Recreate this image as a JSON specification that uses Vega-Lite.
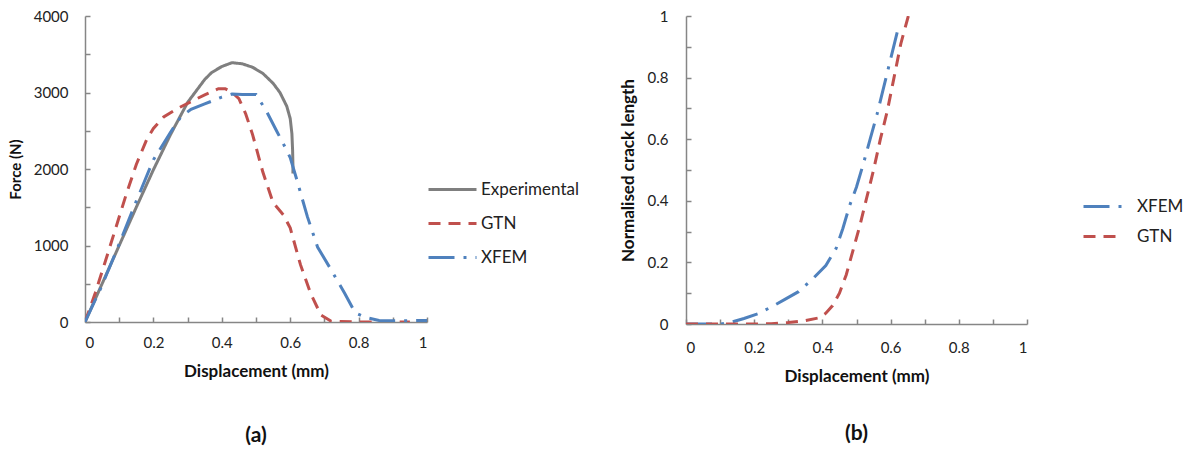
{
  "$schema": "https://vega.github.io/schema/vega-lite/v6.json",
  "padding": {"left": 8, "top": 9, "right": 5, "bottom": 5},
  "background": "white",
  "config": {
    "view": {"stroke": null},
    "font": "Lato",
    "axis": {"grid": false, "domainColor": "#868686", "domainWidth": 1.5, "tickColor": "#868686", "tickWidth": 1.5, "tickSize": -5, "labelFont": "Lato", "labelFontSize": 15, "labelColor": "#222222", "titleFont": "Lato", "titleFontSize": 17, "titleFontWeight": "bold", "titleColor": "#111111"},
    "legend": {"labelFont": "Lato", "labelFontSize": 17, "labelColor": "#222222", "symbolType": "stroke", "symbolStrokeWidth": 3, "padding": 0},
    "title": {"font": "Lato", "fontSize": 21, "fontWeight": "bold", "color": "#111111", "orient": "bottom"}
  },
  "datasets": {
    "a": [
      {"s": "Experimental", "i": 0, "d": 0, "f": 0},
      {"s": "Experimental", "i": 1, "d": 0.05, "f": 500},
      {"s": "Experimental", "i": 2, "d": 0.1, "f": 1000},
      {"s": "Experimental", "i": 3, "d": 0.15, "f": 1500},
      {"s": "Experimental", "i": 4, "d": 0.2, "f": 1990},
      {"s": "Experimental", "i": 5, "d": 0.25, "f": 2450},
      {"s": "Experimental", "i": 6, "d": 0.3, "f": 2870},
      {"s": "Experimental", "i": 7, "d": 0.32, "f": 2990},
      {"s": "Experimental", "i": 8, "d": 0.35, "f": 3170},
      {"s": "Experimental", "i": 9, "d": 0.37, "f": 3260},
      {"s": "Experimental", "i": 10, "d": 0.4, "f": 3340},
      {"s": "Experimental", "i": 11, "d": 0.43, "f": 3390},
      {"s": "Experimental", "i": 12, "d": 0.46, "f": 3375},
      {"s": "Experimental", "i": 13, "d": 0.49, "f": 3330},
      {"s": "Experimental", "i": 14, "d": 0.52, "f": 3250},
      {"s": "Experimental", "i": 15, "d": 0.55, "f": 3120},
      {"s": "Experimental", "i": 16, "d": 0.57, "f": 3000},
      {"s": "Experimental", "i": 17, "d": 0.59, "f": 2820},
      {"s": "Experimental", "i": 18, "d": 0.6, "f": 2660},
      {"s": "Experimental", "i": 19, "d": 0.605, "f": 2460},
      {"s": "Experimental", "i": 20, "d": 0.607, "f": 2250},
      {"s": "Experimental", "i": 21, "d": 0.608, "f": 2050},
      {"s": "Experimental", "i": 22, "d": 0.608, "f": 1940},
      {"s": "GTN", "i": 0, "d": 0, "f": 0},
      {"s": "GTN", "i": 1, "d": 0.03, "f": 380},
      {"s": "GTN", "i": 2, "d": 0.06, "f": 800},
      {"s": "GTN", "i": 3, "d": 0.09, "f": 1230},
      {"s": "GTN", "i": 4, "d": 0.12, "f": 1660},
      {"s": "GTN", "i": 5, "d": 0.15, "f": 2060},
      {"s": "GTN", "i": 6, "d": 0.18, "f": 2380},
      {"s": "GTN", "i": 7, "d": 0.2, "f": 2530},
      {"s": "GTN", "i": 8, "d": 0.23, "f": 2680},
      {"s": "GTN", "i": 9, "d": 0.27, "f": 2790},
      {"s": "GTN", "i": 10, "d": 0.31, "f": 2880},
      {"s": "GTN", "i": 11, "d": 0.35, "f": 2970},
      {"s": "GTN", "i": 12, "d": 0.39, "f": 3050},
      {"s": "GTN", "i": 13, "d": 0.41, "f": 3050},
      {"s": "GTN", "i": 14, "d": 0.43, "f": 3000},
      {"s": "GTN", "i": 15, "d": 0.45, "f": 2920},
      {"s": "GTN", "i": 16, "d": 0.47, "f": 2720},
      {"s": "GTN", "i": 17, "d": 0.49, "f": 2450},
      {"s": "GTN", "i": 18, "d": 0.52, "f": 1960},
      {"s": "GTN", "i": 19, "d": 0.55, "f": 1560},
      {"s": "GTN", "i": 20, "d": 0.58, "f": 1400},
      {"s": "GTN", "i": 21, "d": 0.6, "f": 1230},
      {"s": "GTN", "i": 22, "d": 0.63, "f": 750},
      {"s": "GTN", "i": 23, "d": 0.66, "f": 370},
      {"s": "GTN", "i": 24, "d": 0.69, "f": 90},
      {"s": "GTN", "i": 25, "d": 0.72, "f": 10},
      {"s": "GTN", "i": 26, "d": 0.8, "f": 0},
      {"s": "GTN", "i": 27, "d": 0.9, "f": 0},
      {"s": "GTN", "i": 28, "d": 0.95, "f": 0},
      {"s": "XFEM", "i": 0, "d": 0, "f": 0},
      {"s": "XFEM", "i": 1, "d": 0.05, "f": 480},
      {"s": "XFEM", "i": 2, "d": 0.1, "f": 1020},
      {"s": "XFEM", "i": 3, "d": 0.15, "f": 1580},
      {"s": "XFEM", "i": 4, "d": 0.2, "f": 2120},
      {"s": "XFEM", "i": 5, "d": 0.25, "f": 2480},
      {"s": "XFEM", "i": 6, "d": 0.28, "f": 2680},
      {"s": "XFEM", "i": 7, "d": 0.31, "f": 2780},
      {"s": "XFEM", "i": 8, "d": 0.35, "f": 2850},
      {"s": "XFEM", "i": 9, "d": 0.4, "f": 2940},
      {"s": "XFEM", "i": 10, "d": 0.43, "f": 2980},
      {"s": "XFEM", "i": 11, "d": 0.46, "f": 2975},
      {"s": "XFEM", "i": 12, "d": 0.5, "f": 2975},
      {"s": "XFEM", "i": 13, "d": 0.53, "f": 2760},
      {"s": "XFEM", "i": 14, "d": 0.56, "f": 2500},
      {"s": "XFEM", "i": 15, "d": 0.58, "f": 2330},
      {"s": "XFEM", "i": 16, "d": 0.6, "f": 2150},
      {"s": "XFEM", "i": 17, "d": 0.62, "f": 1850},
      {"s": "XFEM", "i": 18, "d": 0.65, "f": 1380},
      {"s": "XFEM", "i": 19, "d": 0.68, "f": 980},
      {"s": "XFEM", "i": 20, "d": 0.72, "f": 680},
      {"s": "XFEM", "i": 21, "d": 0.76, "f": 370},
      {"s": "XFEM", "i": 22, "d": 0.79, "f": 120},
      {"s": "XFEM", "i": 23, "d": 0.82, "f": 60},
      {"s": "XFEM", "i": 24, "d": 0.86, "f": 20},
      {"s": "XFEM", "i": 25, "d": 0.9, "f": 15},
      {"s": "XFEM", "i": 26, "d": 1.0, "f": 20}
    ],
    "b": [
      {"s": "XFEM", "i": 0, "d": 0, "c": 0},
      {"s": "XFEM", "i": 1, "d": 0.05, "c": 0},
      {"s": "XFEM", "i": 2, "d": 0.1, "c": 0},
      {"s": "XFEM", "i": 3, "d": 0.13, "c": 0.005},
      {"s": "XFEM", "i": 4, "d": 0.17, "c": 0.018},
      {"s": "XFEM", "i": 5, "d": 0.21, "c": 0.033},
      {"s": "XFEM", "i": 6, "d": 0.25, "c": 0.055},
      {"s": "XFEM", "i": 7, "d": 0.29, "c": 0.08},
      {"s": "XFEM", "i": 8, "d": 0.33, "c": 0.105},
      {"s": "XFEM", "i": 9, "d": 0.37, "c": 0.145},
      {"s": "XFEM", "i": 10, "d": 0.41, "c": 0.19},
      {"s": "XFEM", "i": 11, "d": 0.44, "c": 0.245},
      {"s": "XFEM", "i": 12, "d": 0.46, "c": 0.31},
      {"s": "XFEM", "i": 13, "d": 0.48, "c": 0.385},
      {"s": "XFEM", "i": 14, "d": 0.5, "c": 0.445},
      {"s": "XFEM", "i": 15, "d": 0.52, "c": 0.52},
      {"s": "XFEM", "i": 16, "d": 0.54, "c": 0.6},
      {"s": "XFEM", "i": 17, "d": 0.56, "c": 0.68},
      {"s": "XFEM", "i": 18, "d": 0.58, "c": 0.77},
      {"s": "XFEM", "i": 19, "d": 0.6, "c": 0.86},
      {"s": "XFEM", "i": 20, "d": 0.62, "c": 0.95},
      {"s": "GTN", "i": 0, "d": 0, "c": 0},
      {"s": "GTN", "i": 1, "d": 0.1, "c": 0},
      {"s": "GTN", "i": 2, "d": 0.2, "c": 0},
      {"s": "GTN", "i": 3, "d": 0.25, "c": 0.001},
      {"s": "GTN", "i": 4, "d": 0.3, "c": 0.005},
      {"s": "GTN", "i": 5, "d": 0.35, "c": 0.011},
      {"s": "GTN", "i": 6, "d": 0.39, "c": 0.02},
      {"s": "GTN", "i": 7, "d": 0.41, "c": 0.035},
      {"s": "GTN", "i": 8, "d": 0.43, "c": 0.06},
      {"s": "GTN", "i": 9, "d": 0.45, "c": 0.1},
      {"s": "GTN", "i": 10, "d": 0.47, "c": 0.16},
      {"s": "GTN", "i": 11, "d": 0.49, "c": 0.24},
      {"s": "GTN", "i": 12, "d": 0.51, "c": 0.32},
      {"s": "GTN", "i": 13, "d": 0.53, "c": 0.41},
      {"s": "GTN", "i": 14, "d": 0.55, "c": 0.5},
      {"s": "GTN", "i": 15, "d": 0.57, "c": 0.6},
      {"s": "GTN", "i": 16, "d": 0.59, "c": 0.69},
      {"s": "GTN", "i": 17, "d": 0.61, "c": 0.8},
      {"s": "GTN", "i": 18, "d": 0.63, "c": 0.91},
      {"s": "GTN", "i": 19, "d": 0.652, "c": 1.0}
    ]
  },
  "hconcat": [
    {
      "width": 342,
      "height": 306,
      "title": {"text": "(a)", "offset": 46},
      "data": {"name": "a"},
      "mark": {"type": "line", "strokeWidth": 3, "clip": true},
      "encoding": {
        "x": {"field": "d", "type": "quantitative", "scale": {"domain": [0, 1], "nice": false}, "axis": {"title": "Displacement (mm)", "values": [0, 0.1, 0.2, 0.3, 0.4, 0.5, 0.6, 0.7, 0.8, 0.9, 1], "labelExpr": "round(datum.value*10) % 2 == 0 ? format(datum.value, '~g') : ''", "labelPadding": 18, "titlePadding": 13}},
        "y": {"field": "f", "type": "quantitative", "scale": {"domain": [0, 4000], "nice": false}, "axis": {"title": "Force (N)", "titleFontSize": 15, "values": [0, 500, 1000, 1500, 2000, 2500, 3000, 3500, 4000], "format": "d", "labelExpr": "datum.value % 1000 == 0 ? datum.label : ''", "labelPadding": 22, "titlePadding": 10}},
        "order": {"field": "i", "type": "quantitative"},
        "color": {"field": "s", "type": "nominal", "scale": {"domain": ["Experimental", "GTN", "XFEM"], "range": ["#7f7f7f", "#c0504d", "#4f81bd"]}, "legend": {"title": null, "orient": "none", "legendX": 342, "legendY": 148, "symbolSize": 2304, "rowPadding": -15, "labelOffset": 3}},
        "strokeDash": {"field": "s", "type": "nominal", "scale": {"domain": ["Experimental", "GTN", "XFEM"], "range": [[1, 0], [12, 8], [26, 9, 3, 9]]}, "legend": {"title": null, "orient": "none", "legendX": 342, "legendY": 148, "symbolSize": 2304, "rowPadding": -15, "labelOffset": 3}}
      }
    },
    {
      "width": 341,
      "height": 308,
      "title": {"text": "(b)", "offset": 39},
      "data": {"name": "b"},
      "mark": {"type": "line", "strokeWidth": 3, "clip": true},
      "encoding": {
        "x": {"field": "d", "type": "quantitative", "scale": {"domain": [0, 1], "nice": false}, "axis": {"title": "Displacement (mm)", "values": [0, 0.1, 0.2, 0.3, 0.4, 0.5, 0.6, 0.7, 0.8, 0.9, 1], "labelExpr": "round(datum.value*10) % 2 == 0 ? format(datum.value, '~g') : ''", "labelPadding": 21, "titlePadding": 13}},
        "y": {"field": "c", "type": "quantitative", "scale": {"domain": [0, 1], "nice": false}, "axis": {"title": "Normalised crack length", "values": [0, 0.1, 0.2, 0.3, 0.4, 0.5, 0.6, 0.7, 0.8, 0.9, 1], "labelExpr": "round(datum.value*10) % 2 == 0 ? format(datum.value, '~g') : ''", "labelPadding": 23, "titlePadding": 10}},
        "order": {"field": "i", "type": "quantitative"},
        "color": {"field": "s", "type": "nominal", "scale": {"domain": ["XFEM", "GTN"], "range": ["#4f81bd", "#c0504d"]}, "legend": {"title": null, "orient": "none", "legendX": 396, "legendY": 169, "symbolSize": 1600, "rowPadding": -1, "labelOffset": 12}},
        "strokeDash": {"field": "s", "type": "nominal", "scale": {"domain": ["XFEM", "GTN"], "range": [[26, 9, 3, 9], [12, 8]]}, "legend": {"title": null, "orient": "none", "legendX": 396, "legendY": 169, "symbolSize": 1600, "rowPadding": -1, "labelOffset": 12}}
      }
    }
  ],
  "spacing": 40,
  "resolve": {"scale": {"color": "independent", "strokeDash": "independent"}, "legend": {"color": "independent", "strokeDash": "independent"}}
}
